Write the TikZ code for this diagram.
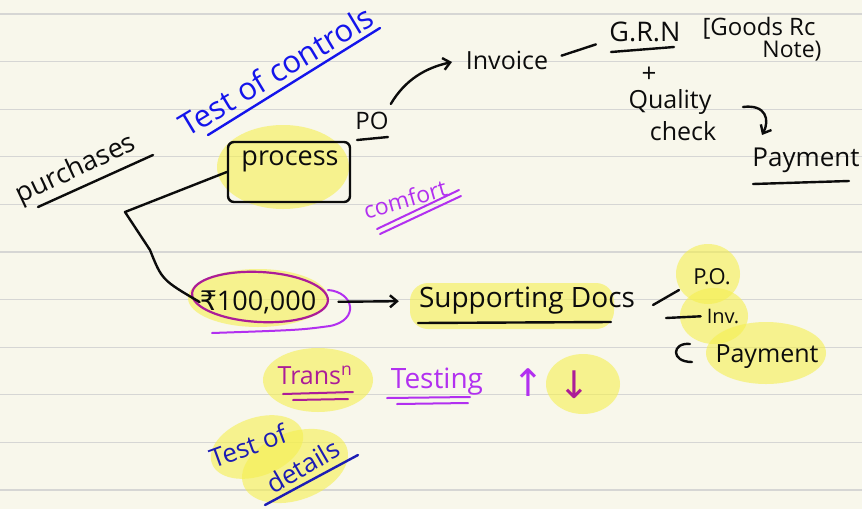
\documentclass[tikz,border=0pt]{standalone}
\usepackage{fontspec}
\setmainfont{Open Sans}
\newfontfamily\symfont{DejaVu Sans}
\usetikzlibrary{arrows.meta,shapes.geometric}

\definecolor{paper}{RGB}{248,247,235}
\definecolor{rule}{RGB}{214,214,212}
\definecolor{ink}{RGB}{12,12,12}
\definecolor{blueink}{RGB}{20,20,235}
\definecolor{navyink}{RGB}{28,28,180}
\definecolor{violetink}{RGB}{178,48,240}
\definecolor{plumink}{RGB}{172,28,152}
\definecolor{marker}{RGB}{245,240,80}

\tikzset{
  pen/.style={line width=2.4pt, line cap=round, line join=round},
  hand/.style={inner sep=0pt, font=\fontsize{#1}{#1}\selectfont},
  hand/.default=24,
  glow/.style={fill=marker, opacity=0.6, draw=none},
  tip/.style={-{Straight Barb[length=7pt,width=12pt]}}
}

\begin{document}
\begin{tikzpicture}[x=1pt,y=-1pt]
  % ruled sheet
  \fill[paper] (0,0) rectangle (862,509);
  \useasboundingbox (0,0) rectangle (862,509);
  \foreach \k in {0,...,10}
    \draw[rule, line width=1.2pt] (0,{14+47.6*\k}) -- (862,{14+47.6*\k});

  % marker highlights
  \fill[glow] (283,167) ellipse [x radius=66, y radius=42];
  \fill[glow] (258,298) ellipse [x radius=70, y radius=29];
  \fill[glow, rounded corners=18] (410,283) rectangle (614,329);
  \fill[glow] (708,274) ellipse [x radius=32, y radius=30];
  \fill[glow] (714,316) ellipse [x radius=34, y radius=28];
  \fill[glow] (766,353) ellipse [x radius=60, y radius=31];
  \fill[glow] (318,380) ellipse [x radius=55, y radius=32];
  \fill[glow] (583,384) ellipse [x radius=37, y radius=30];
  \fill[glow, rotate around={20:(257,447)}] (257,447) ellipse [x radius=48, y radius=29];
  \fill[glow, rotate around={20:(295,466)}] (295,466) ellipse [x radius=55, y radius=34];

  % purchases
  \node[hand=27, ink, rotate=25] (purch) at (76,170) {purchases};
  \draw[pen, ink] (38,207) -- (153,155);

  % test of controls
  \node[hand=31, blueink, rotate=31] (toc) at (276,71) {Test of controls};
  \draw[pen, blueink] (208,135) -- (380,28);

  % process box
  \node[draw=ink, line width=2.4pt, rounded corners=6, minimum width=122pt,
        minimum height=60pt, inner sep=0pt] (procbox) at (289,172) {};
  \node[hand=27, ink] (proc) at (290,161) {process};

  % rupee amount
  \node[hand=27, ink] (amt) at (258,302) {{\symfont ₹}100,000};
  \draw[plumink, line width=2.2pt, rotate around={-3:(260,297)}]
    (260,297) ellipse [x radius=68, y radius=25];
  \draw[pen, violetink, line width=2pt] (328,290) .. controls (354,292) and (360,320) .. (330,326)
    .. controls (300,330) .. (212,333);

  % bracket joining process and amount
  \coordinate (corner) at (125,212);
  \draw[pen, ink] (procbox.west) -- (corner) -- (150,250) .. controls (162,280) .. (amt.west);

  % PO -> Invoice
  \node[hand=24, ink] (po) at (372,121) {PO};
  \draw[pen, ink] (357,140) -- (388,137);
  \draw[pen, ink, tip] (po.north east) ++(2,-8) .. controls (405,80) and (425,68) .. (452,62);
  \node[hand=25, ink] (inv) at (507,60) {Invoice};

  % goods received note
  \node[hand=27, ink] (grn) at (645,32) {G.R.N};
  \draw[pen, ink, shorten <=14pt, shorten >=14pt] (inv.east) -- (grn.west |- 0,40);
  \draw[pen, ink] (611,52) -- (674,47);
  \node[hand=24, ink] (grn1) at (759,28) {[Goods Rc};
  \node[hand=23, ink] (grn2) at (792,51) {Note)};
  \node[hand=26, ink] (plus) at (649,75) {+};
  \node[hand=25, ink] (qual) at (670,102) {Quality};
  \node[hand=25, ink] (chk) at (683,131) {check};
  \node[hand=26, ink] (pay1) at (806,160) {Payment};
  \draw[pen, ink, tip] (743,107) .. controls (766,104) and (770,120) .. (762,135);
  \draw[pen, ink] (753,184) -- (849,181);

  % comfort
  \node[hand=23, violetink, rotate=16] (comf) at (405,199) {comfort};
  \draw[pen, violetink, line width=2pt] (377,229) -- (459,190);
  \draw[pen, violetink, line width=2pt] (380,234) -- (461,196);

  % supporting documents
  \node[hand=28, ink] (docs) at (527,301) {Supporting Docs};
  \draw[pen, ink] (418,323) -- (611,322);
  \draw[pen, ink, tip, shorten <=22pt, shorten >=20pt] (amt.east) -- (docs.west);

  \node[hand=22, ink] (pob) at (712,277) {P.O.};
  \node[hand=20, ink] (invb) at (723,316) {Inv.};
  \node[hand=25, ink] (payb) at (767,357) {Payment};
  \draw[pen, ink] (653,305) -- (679,290);
  \draw[pen, ink, shorten >=6pt] (666,318) -- (invb.west);
  \draw[pen, ink] (690,344) .. controls (672,342) and (670,362) .. (692,362);

  % transaction testing
  \node[hand=25, plumink] (trans) at (315,375) {Trans\textsuperscript{n}};
  \draw[pen, plumink, line width=2pt] (283,394) -- (353,392);
  \draw[pen, plumink, line width=2pt] (293,400) -- (348,399);
  \node[hand=28, violetink] (test) at (437,382) {Testing};
  \draw[pen, violetink, line width=2pt] (387,398) -- (470,397);
  \draw[pen, violetink, line width=2pt] (397,404) -- (468,403);
  \node[hand=38, violetink] (up) at (528,383) {\symfont ↑};
  \node[hand=38, plumink] (down) at (574,385) {\symfont ↓};

  % test of details
  \node[hand=26, navyink, rotate=20] (tod1) at (248,446) {Test of};
  \node[hand=26, navyink, rotate=30] (tod2) at (303,466) {details};
  \draw[pen, navyink] (265,505) -- (358,455);
\end{tikzpicture}
\end{document}
